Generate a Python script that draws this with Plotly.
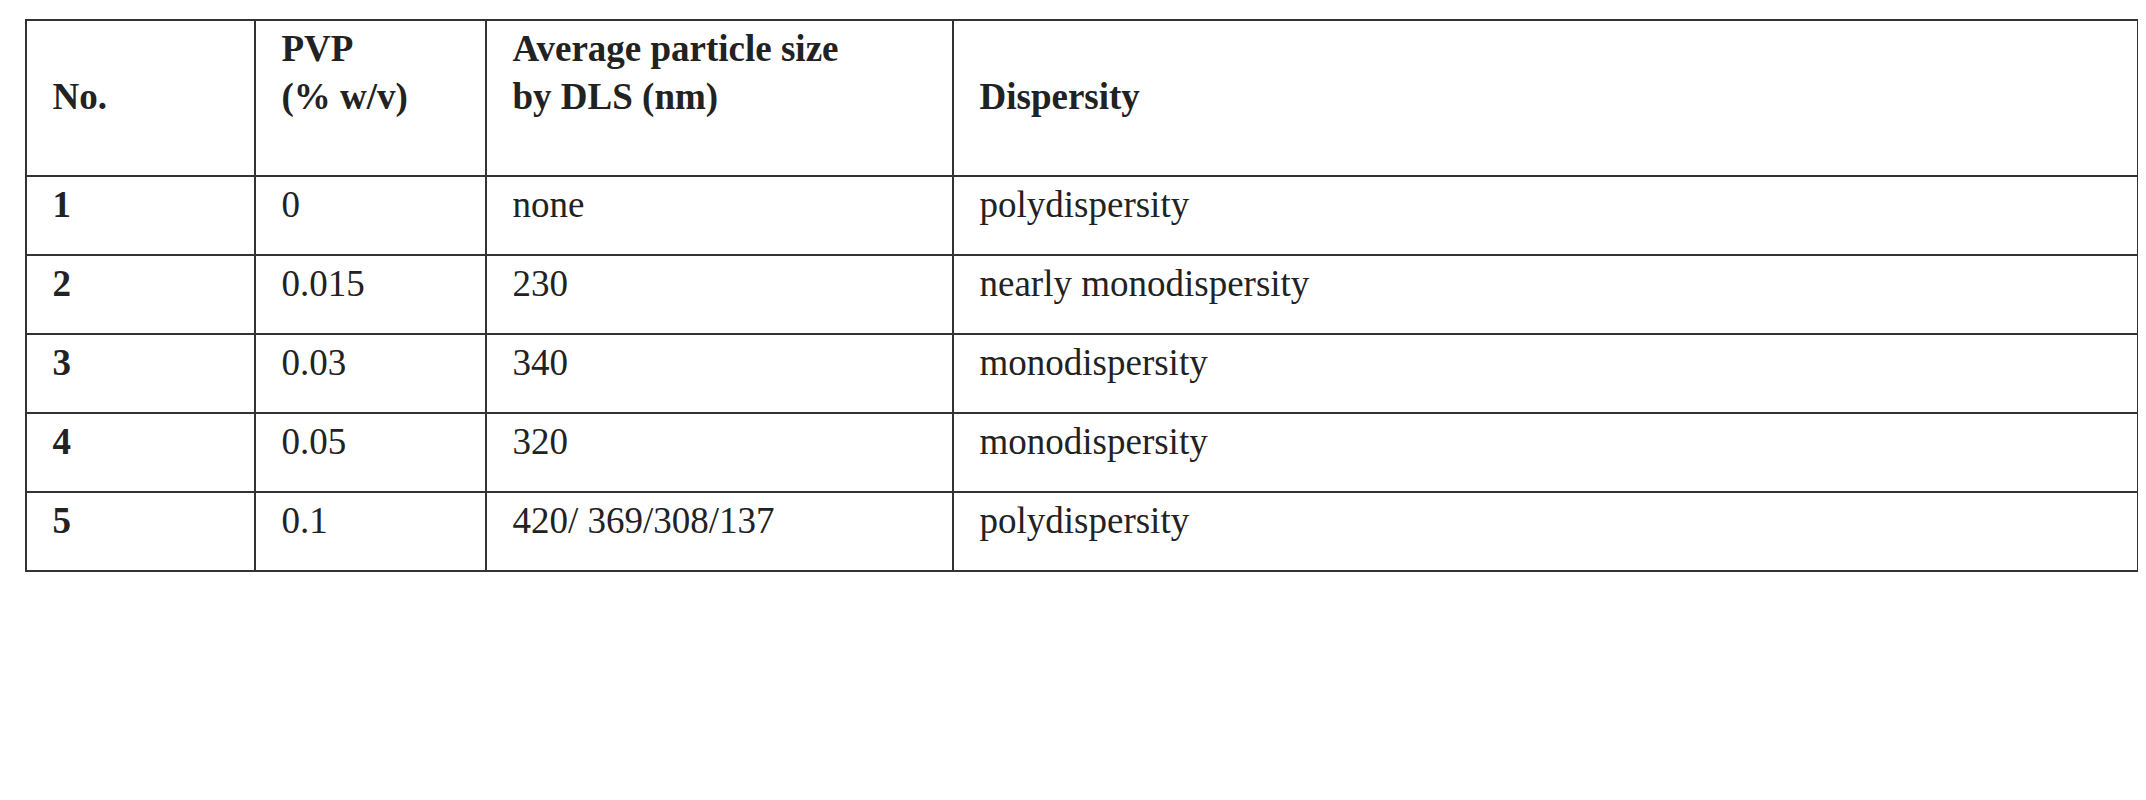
import plotly.graph_objects as go

header = ["No.", "PVP<br>(% w/v)", "Average particle size<br>by DLS (nm)", "Dispersity"]
no = ["1", "2", "3", "4", "5"]
pvp = ["0", "0.015", "0.03", "0.05", "0.1"]
size = ["none", "230", "340", "320", "420/ 369/308/137"]
dispersity = ["polydispersity", "nearly monodispersity", "monodispersity",
              "monodispersity", "polydispersity"]

pad = "&nbsp;&nbsp;"
hdr = []
for h in header:
    if "<br>" in h:
        a, b = h.split("<br>")
        hdr.append("<b>%s%s<br>%s%s</b>" % (pad, a, pad, b))
    else:
        hdr.append("<b>&nbsp;<br>%s%s</b>" % (pad, h))

fig = go.Figure(go.Table(
    columnwidth=[229, 231, 467, 1185],
    header=dict(values=hdr, align="left", height=156,
                font=dict(family="Liberation Serif", size=37, color="#222"),
                fill_color="white", line=dict(color="#333", width=2.5)),
    cells=dict(values=[["%s<b>%s</b>" % (pad, n) for n in no],
                       [pad + v for v in pvp],
                       [pad + v for v in size],
                       [pad + v for v in dispersity]],
               align="left", height=79,
               font=dict(family="Liberation Serif", size=37, color="#222"),
               fill_color="white", line=dict(color="#333", width=2.5)),
))
fig.update_layout(width=2146, height=800, paper_bgcolor="white",
                  margin=dict(l=18, r=16, t=12, b=0))
fig.write_html("out.html")
